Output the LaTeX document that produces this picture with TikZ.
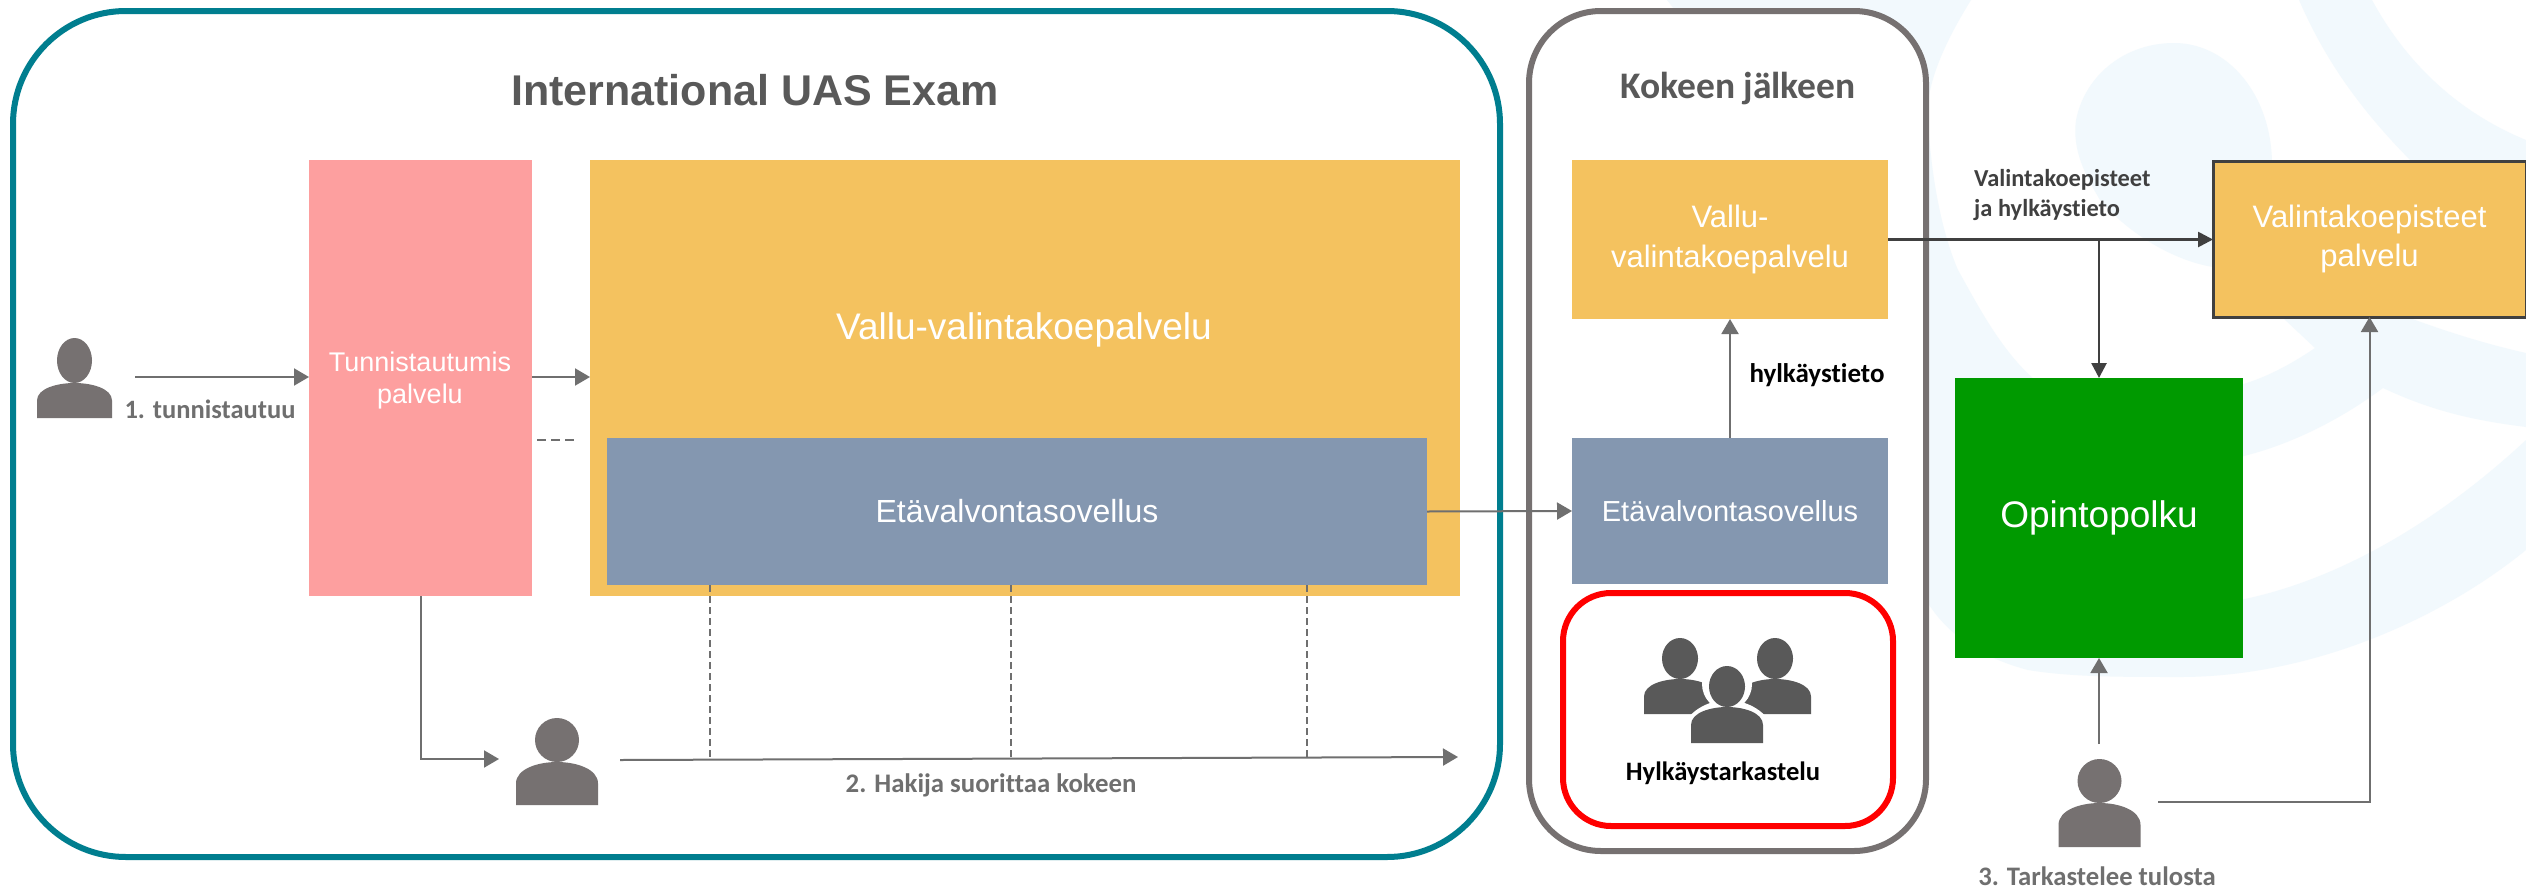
\documentclass[tikz,border=0pt]{standalone}
\usepackage{fontspec}
\setmainfont{Liberation Sans}
\newfontfamily\cali[Ligatures=CommonOff]{Carlito}
\usetikzlibrary{arrows.meta}
\definecolor{yel}{HTML}{F4C25F}
\definecolor{pnk}{HTML}{FD9F9F}
\definecolor{blu}{HTML}{8497B0}
\definecolor{grn}{HTML}{009A00}
\definecolor{teal2}{HTML}{007E8F}
\definecolor{gbox}{HTML}{767171}
\definecolor{pers}{HTML}{767171}
\definecolor{grp}{HTML}{595959}
\definecolor{arr}{HTML}{6F6F6F}
\definecolor{darr}{HTML}{404040}
\definecolor{wm}{HTML}{F2F9FD}
\tikzset{
 x=1pt,y=-1pt,
 box/.style={inner sep=0pt,outer sep=0pt,align=center,text=white,anchor=north west,font=\fontsize{#1}{#1pt}\selectfont},
 conn/.style={draw=arr,line width=2pt,-{Triangle[length=15pt,width=17pt]}},
 dconn/.style={draw=darr,line width=2.6pt,-{Triangle[length=15pt,width=15pt]}},
 dashc/.style={draw=arr,line width=1.6pt,dash pattern=on 9pt off 5pt},
 frame/.style={draw=#1,line width=6pt,fill=white},
 lab/.style={inner sep=0pt,align=left,font=\cali\bfseries\fontsize{#1}{30pt}\selectfont},
}
\newcommand{\personicon}[7]{% cx, headtop, bodytop, bottom, halfwidth, headrx, color
 \fill[#7] (#1,{(#2+#3)/2}) ellipse [x radius=#6,y radius={(#3-#2)/2}];
 \fill[#7] ({#1-#5},#4) -- ({#1-#5},{#3+0.5*(#4-#3)}) .. controls ({#1-#5},{#3+0.15*(#4-#3)}) and ({#1-0.45*#5},#3) .. (#1,#3) .. controls ({#1+0.45*#5},#3) and ({#1+#5},{#3+0.15*(#4-#3)}) .. ({#1+#5},{#3+0.5*(#4-#3)}) -- ({#1+#5},#4) -- cycle;
}
\begin{document}
\begin{tikzpicture}
\useasboundingbox (0,0) rectangle (2526,889);
\fill[white] (0,0) rectangle (2526,889);
% watermark
\fill[wm] (1667,0) -- (1971,0) .. controls (1940,50) and (1925,90) .. (1928,120) .. controls (1932,190) and (1945,240) .. (1958,270) .. controls (1975,300) and (2000,350) .. (2035,380) -- (2060,600) -- (2240,600) .. controls (2340,580) and (2440,520) .. (2526,440) -- (2526,550) .. controls (2440,620) and (2310,677) .. (2180,677) .. controls (2120,677) and (2070,677) .. (2028,670) .. controls (1990,660) and (1950,640) .. (1926,600) -- (1800,600) -- (1800,170) -- cycle;
\fill[wm] (2076,120) .. controls (2085,75) and (2125,43) .. (2174,43) .. controls (2228,43) and (2272,95) .. (2272,165) -- (2272,300) -- (2225,300) -- (2213,267) .. controls (2170,260) and (2125,230) .. (2100,200) .. controls (2085,175) and (2072,150) .. (2076,120) -- cycle;
\fill[wm] (2299,0) -- (2372,0) .. controls (2410,70) and (2465,115) .. (2526,140) -- (2526,165) -- (2415,165) .. controls (2360,110) and (2325,60) .. (2299,0) -- cycle;
\fill[wm] (2240,385) .. controls (2265,378) and (2290,365) .. (2315,348) -- (2283,318) -- (2407,317) .. controls (2450,333) and (2490,345) .. (2526,353) -- (2526,427) .. controls (2470,420) and (2430,410) .. (2383,388) .. controls (2340,420) and (2290,445) .. (2240,457) -- cycle;
% frames
\draw[frame=teal2,rounded corners=113pt] (13,11) rectangle (1500,857);
\draw[frame=gbox,rounded corners=72pt] (1529,11) rectangle (1926,851);
\node[inner sep=0pt,text=grp,font=\bfseries\fontsize{43}{48}\selectfont] (title) at (755,90) {International UAS Exam};
\node[lab=37.5,text=grp] (ktitle) at (1738,89) {Kokeen jälkeen};
% boxes
\node[box=26,fill=pnk,minimum width=223pt,minimum height=436pt] (pink) at (309,160) {};
\node[text=white,inner sep=0pt,align=center,font=\fontsize{27}{32pt}\selectfont] (pinkt) at (420,381) {Tunnistautumis\\palvelu};
\node[box=26,fill=yel,minimum width=870pt,minimum height=436pt] (yellow) at (590,160) {};
\node[text=white,inner sep=0pt,font=\fontsize{37}{40}\selectfont] (yellowt) at (1024,330) {Vallu-valintakoepalvelu};
\node[box=32,fill=blu,minimum width=820pt,minimum height=147pt] (blue) at (607,438) {Etävalvontasovellus};
\node[box=31,fill=yel,minimum width=316pt,minimum height=159pt,font=\fontsize{31}{39.5pt}\selectfont] (vallu) at (1572,160) {Vallu-\\valintakoepalvelu};
\node[box=29,fill=blu,minimum width=316pt,minimum height=146pt] (blue2) at (1572,438) {Etävalvontasovellus};
\draw[draw=red,line width=6pt,fill=white,rounded corners=48pt] (1563,593) rectangle (1893,826);
\node[box=31,fill=yel,draw=darr,line width=3pt,minimum width=313pt,minimum height=156pt,font=\fontsize{31}{39.5pt}\selectfont,outer sep=0pt] (vk) at (2213,161) {Valintakoepisteet\\palvelu};
\node[box=37,fill=grn,minimum width=288pt,minimum height=280pt] (green) at (1955,378) {Opintopolku};
% persons
\personicon{74.5}{338}{383}{418}{37.5}{17.5}{pers}
\personicon{557}{718}{762}{805}{41}{22}{pers}
\personicon{2099.5}{759}{803}{847}{41}{22}{pers}
% group
\personicon{1680}{638}{679}{714}{36}{18}{grp}
\personicon{1775}{638}{679}{714}{36}{18}{grp}
\fill[white] (1727,684) ellipse [x radius=25,y radius=26];
\fill[white] (1684,742) -- (1684,725) .. controls (1690,710) and (1710,700) .. (1727,700) .. controls (1745,700) and (1765,710) .. (1771,725) -- (1771,742) -- cycle;
\personicon{1727}{666}{707}{743}{36}{18}{grp}
% coordinates
\coordinate (p1) at (135,377);
\coordinate (pinkr) at (532,377);
\coordinate (yell) at (590,377);
\coordinate (pinkl) at (309,377);
\coordinate (pinkb) at (421,596);
\coordinate (p2in) at (499,759);
\coordinate (p2out) at (620,760);
\coordinate (p2end) at (1458,757);
\coordinate (dash1) at (537,440);
\coordinate (dash2) at (576,440);
\draw[conn] (p1) -- (pinkl);
\draw[conn] (pinkr) -- (yell);
\draw[dashc] (dash1) -- (dash2);
\draw[conn] (pinkb) |- (p2in);
\draw[conn] (p2out) -- (p2end);
\foreach \x/\y in {710/759.7,1011/759,1307/758}
  \draw[dashc,dash pattern=on 7pt off 4pt] (\x,585) -- (\x,\y);
\draw[conn] (blue.east) -- (blue2.west);
\draw[conn] (blue2.north) -- (vallu.south);
\draw[dconn] (vallu.east) -- (vallu.east -| vk.west);
\coordinate (branch) at (green.north |- vallu.east);
\draw[dconn] (branch) -- (green.north);
\coordinate (p3up) at (green.south |- 0,744);
\draw[conn] (p3up) -- (green.south);
\coordinate (p3r) at (2158,802);
\draw[conn] (p3r) -| (vk.south);
% labels
\node[lab=26.5,text=arr] (l1) at (210,409) {1. tunnistautuu};
\node[lab=26.8,text=arr] (l2) at (991,785) {2. Hakija suorittaa kokeen};
\node[lab=26.7,text=arr] (l3) at (2097,876) {3. Tarkastelee tulosta};
\node[lab=24.4,text=darr,anchor=west] (l4) at (1974,195) {Valintakoepisteet\\ja hylkäystieto};
\node[lab=27,text=black] (l5) at (1817,375) {hylkäystieto};
\node[lab=26.6,text=black] (l6) at (1723,773) {Hylkäystarkastelu};
\end{tikzpicture}
\end{document}
